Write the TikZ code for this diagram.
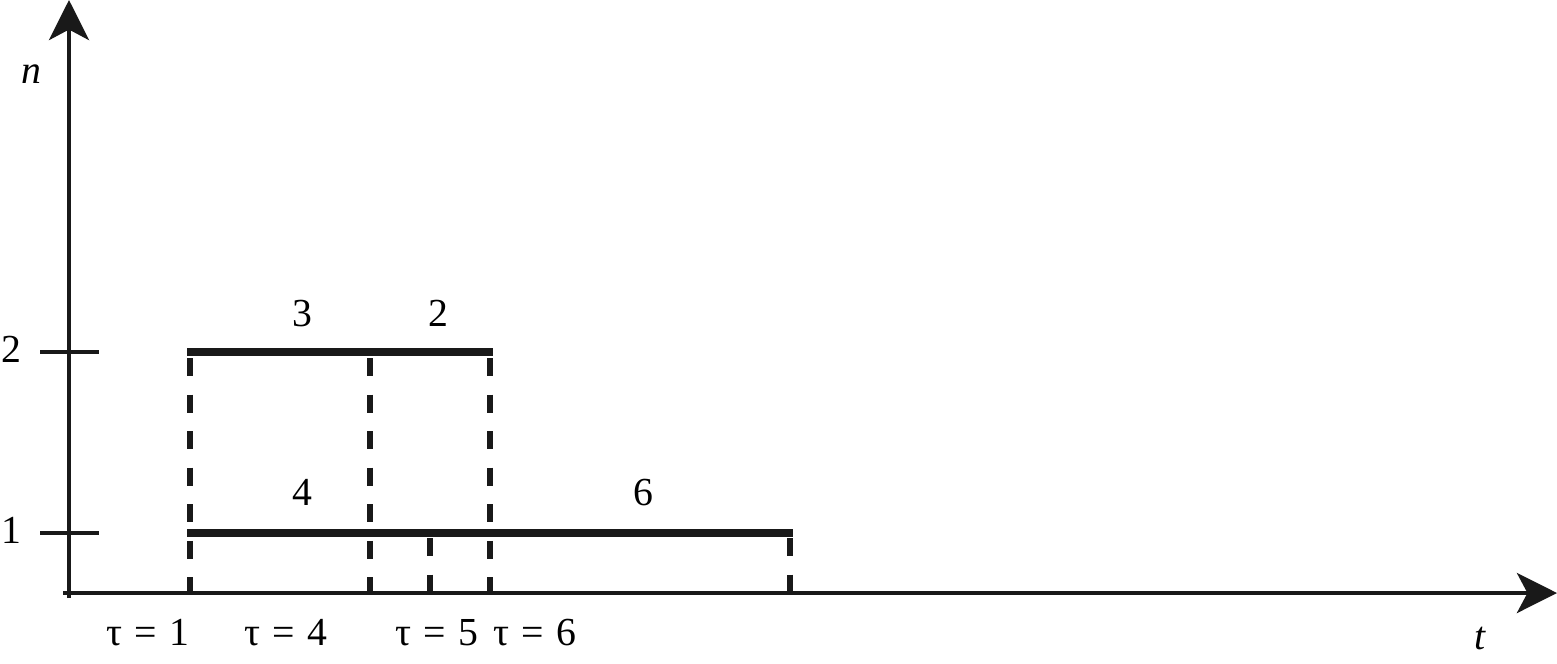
\documentclass[tikz,border=0pt]{standalone}
\usepackage{fontspec}
\setmainfont{Liberation Serif}
\usetikzlibrary{arrows.meta}
\newcommand{\tauq}[1]{τ\hspace{0.32em}=\hspace{0.32em}#1}
\begin{document}
\begin{tikzpicture}[x=0.01cm,y=-0.01cm,
  axis/.style={line width=1.15pt,color=black!90},
  tick/.style={line width=1.15pt,color=black!90},
  seg/.style={line width=2.1pt,color=black!90},
  dline/.style={line width=1.75pt,color=black!90,dash pattern=on 5.1pt off 5.3pt},
  lbl/.style={font=\fontsize{11.3}{13}\selectfont,inner sep=0pt,anchor=base},
  tip/.style={-{Stealth[length=11.4pt,width=11.4pt,inset=3pt]}}]
\useasboundingbox (0,0) rectangle (1557,663);
% axes
\coordinate (o) at (69,593);
\coordinate (ytop) at (69,0);
\coordinate (xend) at (1557,593);
\draw[axis,tip] (69,598) -- (ytop);
\draw[axis,tip] (63,593) -- (xend);
% ticks
\draw[tick] (40,352) -- (99,352);
\draw[tick] (40,533) -- (99,533);
\node[lbl] (l2) at (11,362) {2};
\node[lbl] (l1) at (11,543) {1};
\node[lbl] (n) at (31,83) {\textit{n}};
\node[lbl] (t) at (1480,649) {\textit{t}};
% segments
\draw[seg,line cap=rect] (191,352) -- (489,352);
\draw[seg,line cap=rect] (191,533) -- (789,533);
% dashed verticals
\draw[dline] (190,358) -- (190,593);
\draw[dline] (370,358) -- (370,593);
\draw[dline] (490,358) -- (490,593);
\draw[dline] (430,538) -- (430,593);
\draw[dline] (790,538) -- (790,593);
% labels
\node[lbl] (a3) at (302,326) {3};
\node[lbl] (a2) at (438,326) {2};
\node[lbl] (a4) at (302,505) {4};
\node[lbl] (a6) at (643,505) {6};
\node[lbl] (t1) at (148,645) {\tauq{1}};
\node[lbl] (t4) at (286,645) {\tauq{4}};
\node[lbl] (t5) at (437,645) {\tauq{5}};
\node[lbl] (t6) at (535,645) {\tauq{6}};
\end{tikzpicture}
\end{document}
